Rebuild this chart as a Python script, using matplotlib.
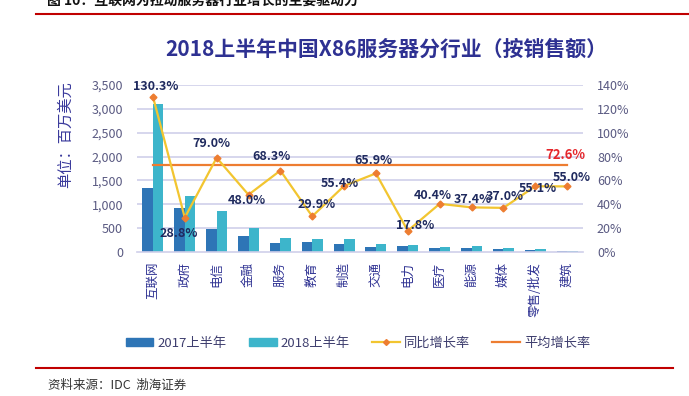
import numpy as np
import matplotlib
matplotlib.use("Agg")
import matplotlib.pyplot as plt
from matplotlib.patches import Patch
from matplotlib.lines import Line2D

plt.rcParams['font.family'] = ['Noto Sans CJK SC', 'DejaVu Sans']

# ----------------------------------------------------------------------
# data
# ----------------------------------------------------------------------
categories = ["互联网", "政府", "电信", "金融", "服务", "教育", "制造",
              "交通", "电力", "医疗", "能源", "媒体", "零售/批发", "建筑"]
sales_2017 = [1344, 912, 485, 340, 180, 210, 170, 96, 125, 82, 85, 58, 43, 14]
sales_2018 = [3097, 1178, 868, 503, 303, 273, 264, 159, 150, 115, 117, 79, 67, 22]
growth = [130.3, 28.8, 79.0, 48.0, 68.3, 29.9, 55.4, 65.9, 17.8, 40.4,
          37.4, 37.0, 55.1, 55.0]
avg_growth = 72.6
left_ticks = [0, 500, 1000, 1500, 2000, 2500, 3000, 3500]
right_ticks = [0, 20, 40, 60, 80, 100, 120, 140]

# label offsets (points) of the growth labels relative to their markers
label_off = [(2, 7), (-4, -11.5), (-4, 10), (-1.5, -4), (-6.5, 10), (3.5, 8.5),
             (-3, 1.5), (-1.5, 9.5), (5, 4), (-5, 6), (1, 6), (1, 8),
             (2, -1.5), (3, 6.5)]

C17 = "#2E75B6"
C18 = "#3DB5CB"
CLINE = "#F2C530"
CMARK = "#ED7D31"
CAVG = "#ED7D31"
NAVY = "#2E3192"
GRID = "#CFCFEA"
TICKC = "#5A5A82"

fig = plt.figure(figsize=(6.89, 3.96), dpi=100)
ax = fig.add_axes([137 / 689, 1 - 252 / 396, 446 / 689, 167 / 396])
ax2 = ax.twinx()

x = np.arange(len(categories))
w = 0.33
ax.bar(x - w / 2, sales_2017, w, color=C17, zorder=2)
ax.bar(x + w / 2, sales_2018, w, color=C18, zorder=2)

ax.set_xlim(-0.5, len(categories) - 0.5)
ax.set_ylim(0, 3500)
ax.set_yticks(left_ticks)
ax.set_yticklabels([f"{v:,}" for v in left_ticks])
for v in left_ticks[1:]:
    ax.axhline(v, color=GRID, lw=1.2, zorder=1)
ax.set_xticks(x)
ax.set_xticklabels(categories, rotation=90, fontsize=9, color=NAVY, va="top")
ax.tick_params(axis="x", length=0, pad=7)
ax.tick_params(axis="y", length=0, pad=10, labelsize=9, labelcolor=TICKC)
for s in ("top", "left", "right"):
    ax.spines[s].set_visible(False)
ax.spines["bottom"].set_color(GRID)
ax.spines["bottom"].set_linewidth(1.2)

# growth rates on the right axis
ax2.set_ylim(0, 140)
ax2.set_yticks(right_ticks)
ax2.set_yticklabels([f"{v}%" for v in right_ticks])
ax2.tick_params(axis="y", length=0, pad=10, labelsize=9, labelcolor=TICKC)
for s in ax2.spines.values():
    s.set_visible(False)
ax2.plot([x[0], x[-1]], [avg_growth, avg_growth], color=CAVG, lw=1.6, zorder=3)
ax2.plot(x, growth, color=CLINE, lw=1.6, marker="D", markersize=3.5,
         markerfacecolor=CMARK, markeredgecolor=CMARK, zorder=4)
for xi, g, (dx, dy) in zip(x, growth, label_off):
    ax2.annotate(f"{g:.1f}%", (xi, g), xytext=(dx, dy), textcoords="offset points",
                 ha="center", va="center", fontsize=9, fontweight="bold",
                 color="#1F2A5E", zorder=5)
ax2.annotate(f"{avg_growth:.1f}%", (x[-1], avg_growth), xytext=(-1.5, 7.5),
             textcoords="offset points", ha="center", va="center",
             fontsize=9.5, fontweight="bold", color="#E5262B")

# titles and captions
fig.text(386 / 689, 1 - 49 / 396, "2018上半年中国X86服务器分行业（按销售额）",
         ha="center", va="center", fontsize=15, fontweight="bold", color=NAVY)
fig.text(65 / 689, 1 - 135 / 396, "单位：百万美元", rotation=90,
         ha="center", va="center", fontsize=11, fontweight="medium", color="#3A3A9C")
fig.text(47 / 689, 1 - 1 / 396, "图 10：互联网为拉动服务器行业增长的主要驱动力",
         ha="left", va="center", fontsize=10, fontweight="bold", color="#111111")
fig.text(48 / 689, 1 - 385 / 396, "资料来源：IDC  渤海证券", ha="left", va="center",
         fontsize=9, style="italic", color="#333333")

fig.add_artist(Line2D([36 / 689, 1.0], [1 - 14 / 396] * 2, color="#C00000", lw=1.5))
fig.add_artist(Line2D([36 / 689, 673 / 689], [1 - 368 / 396] * 2,
                      color="#C00000", lw=1.5))

handles = [Patch(color=C17), Patch(color=C18),
           Line2D([], [], color=CLINE, lw=1.6, marker="D", markersize=3,
                  markerfacecolor=CMARK, markeredgecolor=CMARK),
           Line2D([], [], color=CAVG, lw=1.6)]
labels = ["2017上半年", "2018上半年", "同比增长率", "平均增长率"]
fig.legend(handles, labels, loc="center", bbox_to_anchor=(358 / 689, 1 - 343 / 396),
           ncol=4, frameon=False, fontsize=9.5, handlelength=2.1, handleheight=0.6,
           handletextpad=0.3, columnspacing=1.7, labelcolor="#3F3F6F")

fig.savefig("out.png", dpi=100)
